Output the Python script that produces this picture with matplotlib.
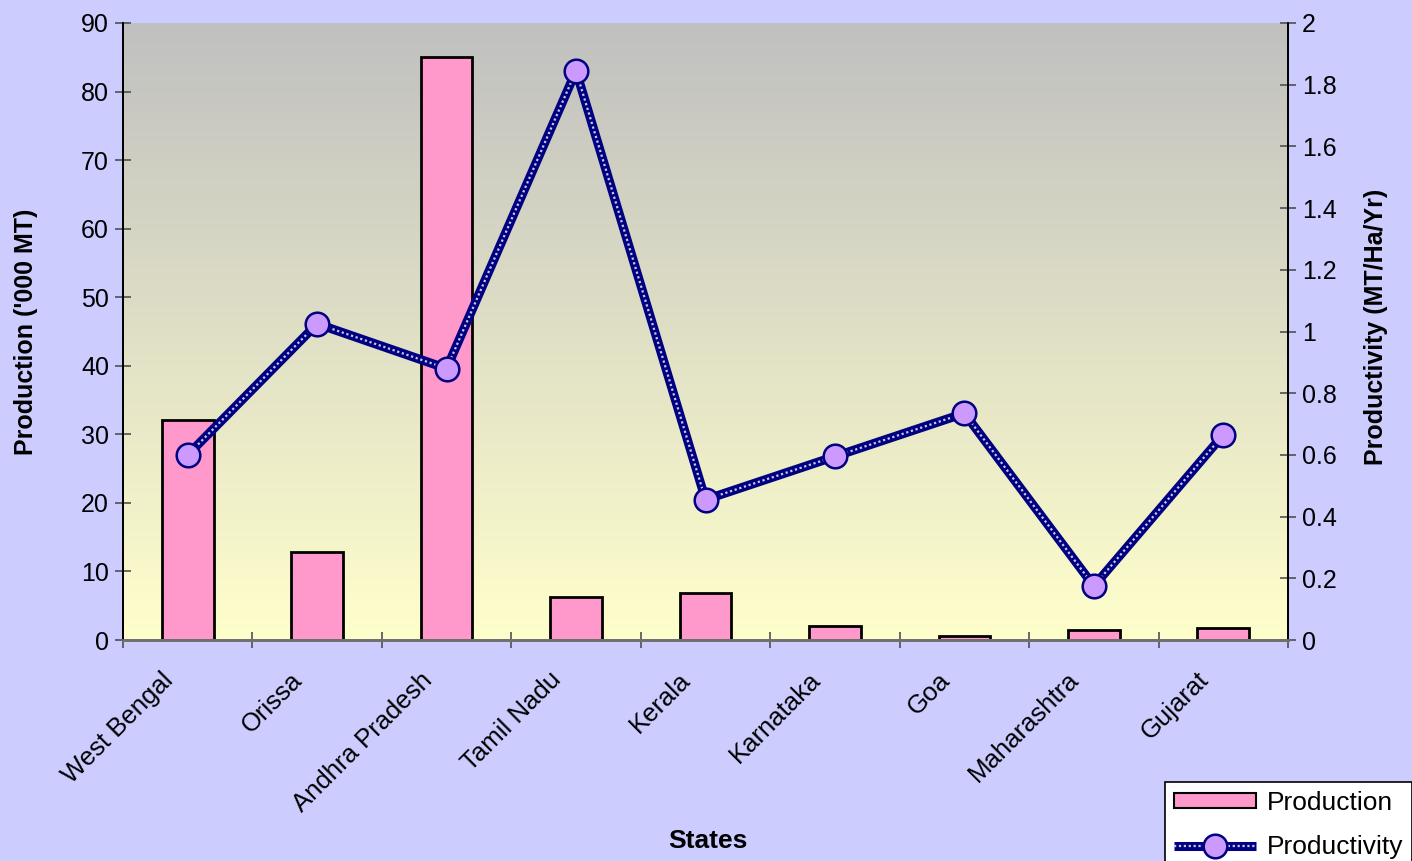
import numpy as np
import matplotlib
matplotlib.use("Agg")
import matplotlib.pyplot as plt
from matplotlib.patches import Patch
from matplotlib.legend_handler import HandlerTuple
from matplotlib.transforms import ScaledTranslation

plt.rcParams['font.family'] = ['Liberation Sans', 'DejaVu Sans']

# Data
states = ["West Bengal", "Orissa", "Andhra Pradesh", "Tamil Nadu", "Kerala",
          "Karnataka", "Goa", "Maharashtra", "Gujarat"]
production = [32.1, 12.8, 85.0, 6.3, 6.9, 2.0, 0.6, 1.4, 1.7]     # '000 MT
productivity = [0.6, 1.025, 0.88, 1.845, 0.455, 0.595, 0.735, 0.175, 0.665]  # MT/Ha/Yr

prod_ticks = np.arange(0, 91, 10)
pty_ticks = [0, 0.2, 0.4, 0.6, 0.8, 1, 1.2, 1.4, 1.6, 1.8, 2]
pty_labels = ["0", "0.2", "0.4", "0.6", "0.8", "1", "1.2", "1.4", "1.6", "1.8", "2"]

BG = '#CCCCFF'
PINK = '#FF99CC'
NAVY = '#000080'
LAV = '#CC99FF'
FS = 18

fig = plt.figure(figsize=(14.12, 8.61), dpi=100, facecolor=BG)
ax = fig.add_axes([123/1412, 1 - 640/861, (1288 - 123)/1412, (640 - 23)/861])
ax.set_facecolor(BG)

n = len(states)
x = np.arange(n)

# gradient plot area (grey at top -> pale yellow at bottom)
top = np.array([0xC0, 0xC0, 0xC0]) / 255
bot = np.array([0xFF, 0xFF, 0xCC]) / 255
t = np.linspace(0, 1, 256)[:, None]
grad = (top * (1 - t) + bot * t)[:, None, :]
ax.imshow(grad, aspect='auto', extent=[-0.5, n - 0.5, 0, 90], origin='upper', zorder=0)

ax.bar(x, production, width=0.4, color=PINK, edgecolor='black', linewidth=2, zorder=2)
ax.set_xlim(-0.5, n - 0.5)
ax.set_ylim(0, 90)
ax.set_yticks(prod_ticks)

ax2 = ax.twinx()
ax2.set_ylim(0, 2)
ax2.set_yticks(pty_ticks)
ax2.set_yticklabels(pty_labels)
l1, = ax2.plot(x, productivity, color=NAVY, linewidth=6.5, solid_capstyle='butt', zorder=3)
l2, = ax2.plot(x, productivity, color='#C8C8F0', linewidth=1.6, linestyle=(0, (1, 1.2)), zorder=4)
l3, = ax2.plot(x, productivity, linestyle='none', marker='o', markersize=17,
               markerfacecolor=LAV, markeredgecolor=NAVY, markeredgewidth=1.8, zorder=5)

for a in (ax, ax2):
    a.spines['top'].set_visible(False)
    a.spines['left'].set_color('black')
    a.spines['right'].set_color('black')
    a.spines['bottom'].set_color('#707070')
    a.spines['left'].set_linewidth(1.3)
    a.spines['right'].set_linewidth(1.3)
    a.spines['bottom'].set_linewidth(2)

ax.set_xticks(np.arange(n + 1) - 0.5, minor=False)
ax.set_xticklabels([])
ax.set_xticks(x, minor=True)
ax.set_xticklabels(states, minor=True, rotation=45, ha='right', rotation_mode='anchor', fontsize=18.5)
ax.tick_params(axis='x', which='minor', length=0, pad=20)
ax.tick_params(axis='x', which='major', direction='inout', length=12, color='#505050', width=1.2)
ax.tick_params(axis='y', direction='inout', length=12, color='#505050', width=1.2, labelsize=FS, pad=4)
ax2.tick_params(axis='y', direction='inout', length=12, color='#505050', width=1.2, labelsize=FS, pad=4)

shift = ScaledTranslation(-27/100, 0, fig.dpi_scale_trans)
for lab in ax.get_xticklabels(minor=True):
    lab.set_transform(lab.get_transform() + shift)

ax.set_ylabel("Production ('000 MT)", fontsize=FS, fontweight='bold')
ax.yaxis.set_label_coords((38 - 123)/1165, 0.5)
ax2.set_ylabel("Productivity (MT/Ha/Yr)", fontsize=FS, fontweight='bold')
ax2.yaxis.set_label_coords((1364 - 123)/1165, 0.5 + 0.007)
fig.text(708/1412, 1 - 841/861, "States", fontsize=19, fontweight='bold', ha='center', va='center')

h_bar = Patch(facecolor=PINK, edgecolor='black', linewidth=1.5)
leg = ax.legend([h_bar, (l1, l2, l3)], ["Production", "Productivity"],
                handler_map={tuple: HandlerTuple(ndivide=1)},
                loc='upper left', bbox_to_anchor=(1165/1412, 1 - 782/861), bbox_transform=fig.transFigure,
                borderaxespad=0, fancybox=False, framealpha=1, edgecolor='black', fontsize=19,
                handlelength=3.1, handleheight=0.5, handletextpad=0.4, borderpad=0.35, labelspacing=0.75)
leg.get_frame().set_linewidth(1.2)
leg.set_zorder(10)

fig.savefig("out.png", dpi=100, facecolor=BG)
